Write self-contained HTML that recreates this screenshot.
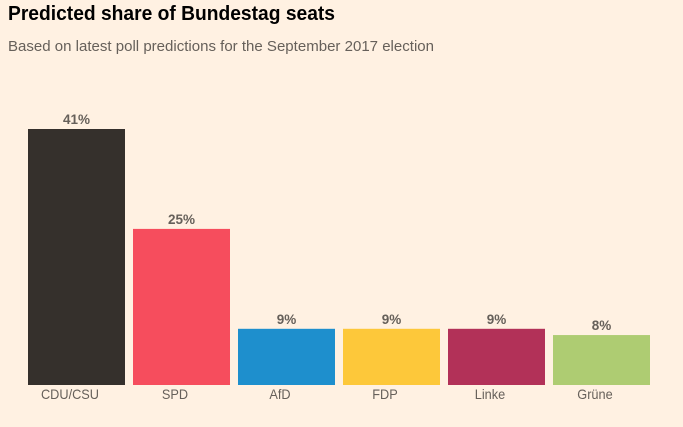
<!DOCTYPE html>
<html lang="en">
<head>
<meta charset="utf-8">
<title>Predicted share of Bundestag seats</title>
<style>
  html, body { margin: 0; padding: 0; background: #fff1e2; }
  #chart { display: block; width: 683px; height: 427px; background: #fff1e2; }
  text { font-family: "Liberation Sans", sans-serif; }
  .title { font-size: 20px; font-weight: 700; fill: #000; }
  .subtitle { font-size: 14.4px; fill: #66605a; }
  .value { font-size: 13.5px; font-weight: 700; fill: #66605a; text-anchor: middle; }
  .cat { font-size: 14px; fill: #66605a; text-anchor: middle; }
</style>
</head>
<body>
<svg id="chart" xmlns="http://www.w3.org/2000/svg" width="683" height="427" viewBox="0 0 683 427">
  <text class="title" x="8" y="20" textLength="327" lengthAdjust="spacingAndGlyphs">Predicted share of Bundestag seats</text>
  <text class="subtitle" x="8" y="51" textLength="426" lengthAdjust="spacingAndGlyphs">Based on latest poll predictions for the September 2017 election</text>
  <g id="bars"></g>
</svg>
<script>
const categories = ['CDU/CSU', 'SPD', 'AfD', 'FDP', 'Linke', 'Grüne'];
const seatShare = [41, 25, 9, 9, 9, 8];
const valueLabels = ['41%', '25%', '9%', '9%', '9%', '8%'];
const partyColors = ['#35302c', '#f64d5d', '#1e8fcd', '#fdc83a', '#b23158', '#aecc72'];

const svgNS = 'http://www.w3.org/2000/svg';
const group = document.getElementById('bars');

const baseline = 385;
const pxPerUnit = 256 / 41;
const firstBarX = 28;
const step = 105;
const barWidth = 97;
const catLabelShift = -6.5;
const catLabelSqueeze = 0.91;

function xScale(i) { return firstBarX + i * step; }
function yScale(v) { return baseline - v * pxPerUnit; }

categories.forEach(function (cat, i) {
  const v = seatShare[i];
  const slug = cat.toLowerCase().replace(/[^a-z0-9ü]+/g, '-');

  const rect = document.createElementNS(svgNS, 'rect');
  rect.setAttribute('x', xScale(i));
  rect.setAttribute('y', yScale(v));
  rect.setAttribute('width', barWidth);
  rect.setAttribute('height', baseline - yScale(v));
  rect.setAttribute('fill', partyColors[i]);
  
  
  group.appendChild(rect);

  const val = document.createElementNS(svgNS, 'text');
  val.setAttribute('class', 'value');
  val.setAttribute('x', xScale(i) + barWidth / 2);
  val.setAttribute('y', yScale(v) - 5);
  val.textContent = valueLabels[i];
  
  
  group.appendChild(val);

  const label = document.createElementNS(svgNS, 'text');
  label.setAttribute('class', 'cat');
  label.setAttribute('x', xScale(i) + barWidth / 2 + catLabelShift);
  label.setAttribute('y', 399);
  label.textContent = cat;
  
  
  group.appendChild(label);
  label.setAttribute('textLength', label.getComputedTextLength() * catLabelSqueeze);
  label.setAttribute('lengthAdjust', 'spacingAndGlyphs');
});
</script>
</body>
</html>
